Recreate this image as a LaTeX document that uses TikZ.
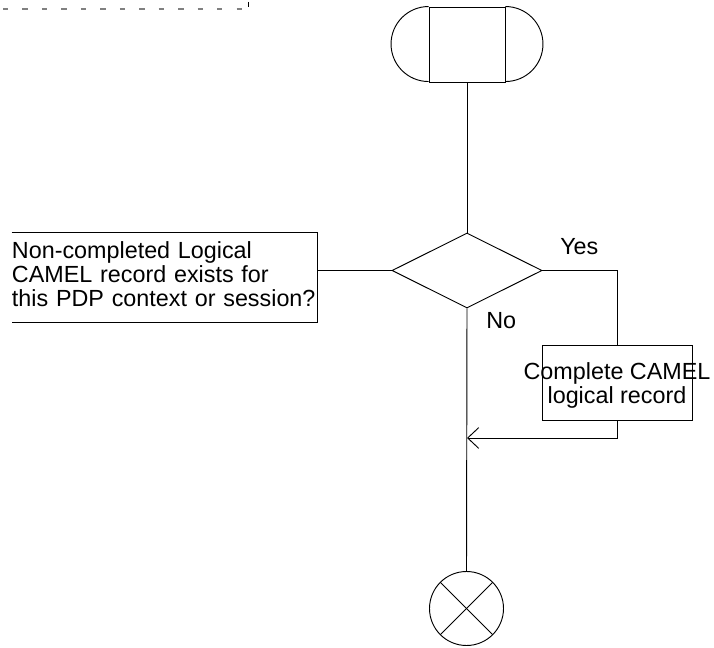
\documentclass[tikz,border=0pt]{standalone}
\usepackage{fontspec}
\setmainfont{Liberation Sans}
\usetikzlibrary{arrows.meta,positioning,calc,shapes.geometric}
\definecolor{ink}{HTML}{000000}
\definecolor{muted}{HTML}{808080}
\newcommand{\sdlfont}{\fontsize{17.5pt}{18pt}\selectfont}
\tikzset{sdl/.style={draw=ink,line width=.7pt},termbox/.style={sdl,rectangle,inner sep=0pt,minimum width=57pt,minimum height=56.25pt},procbox/.style={sdl,rectangle,inner sep=0pt,minimum width=112.5pt,minimum height=56.25pt},decision/.style={sdl,diamond,aspect=2,inner sep=0pt,minimum width=112.5pt,minimum height=56.25pt},stopsym/.style={sdl,circle,inner sep=0pt,minimum size=55.5pt},note/.style={inner sep=0pt,minimum width=228.75pt,minimum height=66.75pt},notetext/.style={inner sep=0pt,text width=228.75pt,align=left,font=\sdlfont},flow/.style={sdl},arrowflow/.style={sdl,-{Straight Barb[length=8.25pt,width=15.5pt,line width=.7pt]}},txt/.style={font=\sdlfont,inner sep=0pt}}
\begin{document}
\begin{tikzpicture}[x=.75pt,y=-.75pt]
\useasboundingbox (0,0) rectangle (714,648);
\draw[muted,line width=.8pt,dash pattern=on 4pt off 10.6pt] (3,9) -- (243,9);
\draw[ink,line width=.6pt] (248,2) -- (248,7);
\node[termbox] (start) at (467,44.5) {};
\draw[sdl] (start.north west) arc[start angle=90,end angle=270,radius=28.125pt];
\draw[sdl] (start.north east) arc[start angle=90,end angle=-90,radius=28.125pt];
\node[decision] (dec) at (467,270.5) {};
\node[note] (cmt) at (164.5,277.5) {};
\node[notetext] (cmttext) at ([yshift=2.25pt]cmt.center) {Non-completed Logical\\CAMEL record exists for\\this PDP context or session?};
\draw[sdl] (cmt.north west) -- (cmt.north east) -- (cmt.south east) -- (cmt.south west);
\node[procbox,label={[txt,align=center,yshift=-1.9pt]center:Complete CAMEL\\logical record}] (done) at (617,382.5) {};
\node[stopsym] (stop) at (466.5,608.5) {};
\draw[sdl] (stop.north west) -- (stop.south east);
\draw[sdl] (stop.north east) -- (stop.south west);
\coordinate (merge) at (467,438);
\node[txt,anchor=base west] (yes) at (560,255) {Yes};
\node[txt,anchor=base west] (no) at (486,329) {No};
\draw[flow] (start.south) -- (dec.north);
\draw[flow] (dec.west) -- (dec.west -| cmt.east);
\draw[flow] (dec.east) -| (done.north);
\draw[flow] (dec.south) -- (stop.north);
\draw[arrowflow] (done.south) |- (merge);
\end{tikzpicture}
\end{document}
